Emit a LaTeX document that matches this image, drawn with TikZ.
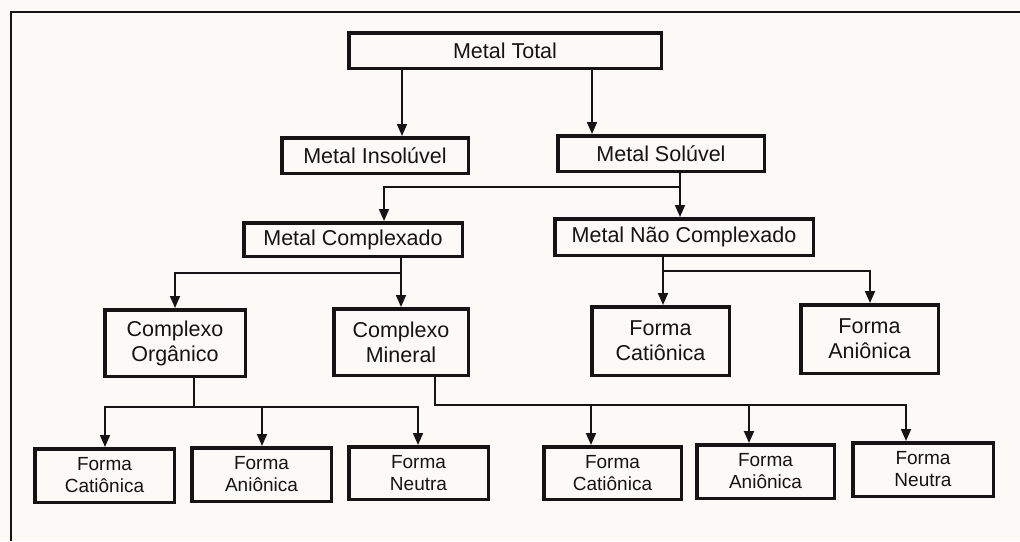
\documentclass[tikz,border=0pt]{standalone}
\usepackage{fontspec}
\setmainfont{Liberation Sans}
\usetikzlibrary{arrows.meta}
\definecolor{paper}{RGB}{251,250,246}
\definecolor{ink}{RGB}{20,20,20}
\tikzset{
  box/.style={draw=ink, line width=3.5pt, inner sep=0pt, align=center, text=ink},
  big/.style={font=\fontsize{21.5}{25}\selectfont},
  small/.style={font=\fontsize{19}{22}\selectfont},
  conn/.style={draw=ink, line width=1.8pt},
  arr/.style={conn, -{Triangle[length=12pt,width=10pt]}},
  frame/.style={draw=ink, line width=2.2pt}
}
\begin{document}
\begin{tikzpicture}[x=1pt,y=-1pt]
\fill[paper] (0,0) rectangle (1020,541);
\useasboundingbox (0,0) rectangle (1020,541);
\draw[frame] (1020,12) -- (11,12) -- (11,541);

% level 1-2
\node[box,big,minimum width=312.5pt,minimum height=35.5pt] (T) at (505,50.5) {Metal Total};
\node[box,big,minimum width=186.5pt,minimum height=35.5pt] (I) at (375,155.5) {Metal Insolúvel};
\node[box,big,minimum width=206.5pt,minimum height=35.5pt] (S) at (661,153.5) {Metal Solúvel};
% level 3
\node[box,big,minimum width=218.5pt,minimum height=33.5pt] (C) at (353,239.5) {Metal Complexado};
\node[box,big,minimum width=258.5pt,minimum height=36.5pt] (N) at (684,237) {Metal Não Complexado};
% level 4
\node[box,big,minimum width=140.5pt,minimum height=66.5pt] (O) at (175,343) {Complexo\\Orgânico};
\node[box,big,minimum width=134.5pt,minimum height=66.5pt] (M) at (401,342) {Complexo\\Mineral};
\node[box,big,minimum width=137.5pt,minimum height=68.5pt] (UC) at (660.5,341) {Forma\\Catiônica};
\node[box,big,minimum width=137.5pt,minimum height=68.5pt] (UA) at (869.5,339) {Forma\\Aniônica};
% level 5
\node[box,small,minimum width=139.5pt,minimum height=53.5pt] (B1) at (104.5,475.5) {Forma\\Catiônica};
\node[box,small,minimum width=139.5pt,minimum height=53.5pt] (B2) at (261.5,474.5) {Forma\\Aniônica};
\node[box,small,minimum width=139.5pt,minimum height=52.5pt] (B3) at (418.5,473) {Forma\\Neutra};
\node[box,small,minimum width=137.5pt,minimum height=52.5pt] (B4) at (612.5,473) {Forma\\Catiônica};
\node[box,small,minimum width=137.5pt,minimum height=53.5pt] (B5) at (765.5,471.5) {Forma\\Aniônica};
\node[box,small,minimum width=140.5pt,minimum height=53.5pt] (B6) at (923,469.5) {Forma\\Neutra};

% junction coordinates
\coordinate (tL) at (402,0);
\coordinate (tR) at (592,0);
\coordinate (sD) at (680,187);
\coordinate (sL) at (384,187);
\coordinate (cD) at (401,273);
\coordinate (cL) at (175,273);
\coordinate (nD) at (663,271);
\coordinate (nR) at (870,271);
\coordinate (oD) at (194,407);
\coordinate (oL) at (105,407);
\coordinate (oM) at (262,407);
\coordinate (oR) at (418,407);
\coordinate (mD) at (435,405);
\coordinate (m1) at (591,405);
\coordinate (m2) at (749,405);
\coordinate (m3) at (906,405);

% connectors
\draw[arr] (T.south -| tL) -- (I.north -| tL);
\draw[arr] (T.south -| tR) -- (S.north -| tR);

\draw[arr] (S.south -| sD) -- (sD) -- (sL) -- (sL |- C.north);
\draw[arr] (sD) -- (sD |- N.north);

\draw[arr] (C.south -| cD) -- (M.north -| cD);
\draw[arr] (cD) -- (cL) -- (cL |- O.north);

\draw[arr] (N.south -| nD) -- (UC.north -| nD);
\draw[arr] (nD) -- (nR) -- (nR |- UA.north);

\draw[conn] (O.south -| oD) -- (oD);
\draw[arr] (oD) -- (oL) -- (oL |- B1.north);
\draw[arr] (oD) -- (oR) -- (oR |- B3.north);
\draw[arr] (oM) -- (oM |- B2.north);

\draw[arr] (M.south -| mD) -- (mD) -- (m3) -- (m3 |- B6.north);
\draw[arr] (m1) -- (m1 |- B4.north);
\draw[arr] (m2) -- (m2 |- B5.north);
\end{tikzpicture}
\end{document}
